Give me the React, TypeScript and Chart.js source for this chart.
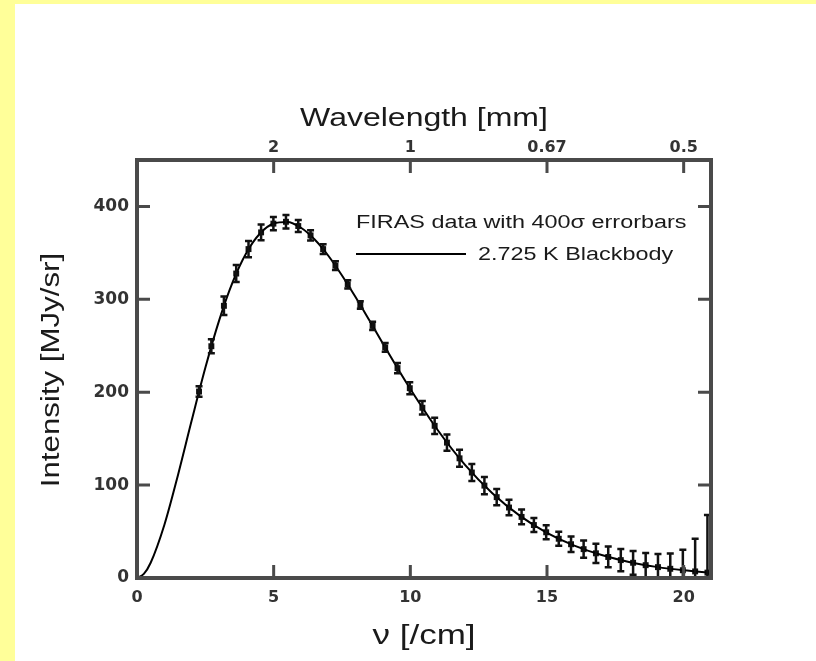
import { useEffect, useRef } from "react";
import { Chart, registerables } from "chart.js";

Chart.register(...registerables);

// FIRAS monopole spectrum: frequency [/cm], intensity [MJy/sr], 1σ uncertainty [kJy/sr]
const firasNu = [
  2.27, 2.72, 3.18, 3.63, 4.08, 4.54, 4.99, 5.45, 5.9, 6.35, 6.81, 7.26, 7.71, 8.17,
  8.62, 9.08, 9.53, 9.98, 10.44, 10.89, 11.34, 11.8, 12.25, 12.71, 13.16, 13.61, 14.07,
  14.52, 14.97, 15.43, 15.88, 16.34, 16.79, 17.24, 17.7, 18.15, 18.61, 19.06, 19.51,
  19.97, 20.42, 20.87,
];
const firasIntensity = [
  200.72, 249.51, 293.02, 327.77, 354.08, 372.08, 381.49, 383.48, 378.9, 368.83, 354.06,
  336.28, 316.08, 293.92, 271.43, 248.24, 225.94, 204.33, 183.26, 163.83, 145.75, 128.84,
  113.57, 99.45, 87.04, 75.88, 65.77, 57.01, 49.22, 42.27, 36.35, 31.06, 26.58, 22.64,
  19.26, 16.39, 13.81, 11.72, 9.92, 8.36, 7.09, 5.8,
];
const firasSigmaKJy = [
  14, 19, 25, 23, 22, 21, 18, 18, 16, 14, 13, 12, 11, 10, 11, 12, 14, 16, 18, 22, 22, 23,
  23, 23, 22, 21, 20, 19, 19, 19, 21, 23, 26, 28, 30, 32, 33, 35, 41, 55, 88, 155,
];
const sigmaMultiplier = 400;

// 2.725 K blackbody curve [/cm] -> [MJy/sr]
const bbNu = [
  0, 0.25, 0.5, 1, 1.5, 2, 2.5, 3, 3.5, 4, 4.5, 5, 5.5, 6, 6.5, 7, 7.5, 8, 8.5, 9, 9.5,
  10, 11, 12, 13, 14, 15, 16, 17, 18, 19, 20, 21,
];
const bbIntensity = [
  0, 4.4, 16.44, 57.11, 111.01, 169.52, 226.28, 276.86, 318.54, 349.98, 370.86, 381.6,
  383.25, 377.04, 364.4, 346.9, 325.7, 302.2, 277.4, 252.2, 227.4, 203.4, 159.3, 121.8,
  91.3, 67.2, 48.7, 34.9, 24.7, 17.27, 11.98, 8.24, 5.63,
];

const xTicks = [0, 5, 10, 15, 20];
const yTicks = [0, 100, 200, 300, 400];
const topTickNu = [5, 10, 15, 20];
const topTickLabels = ["2", "1", "0.67", "0.5"];

const xTitle = "ν [/cm]";
const topTitle = "Wavelength [mm]";
const yTitle = "Intensity [MJy/sr]";
const legendData = "FIRAS data with 400σ errorbars";
const legendLine = "2.725 K Blackbody";

const TEXT = "#1a1a1a";
const FRAME = "#4a4a4a";

function drawText(
  ctx: CanvasRenderingContext2D,
  text: string,
  x: number,
  y: number,
  font: string,
  sx: number,
  align: CanvasTextAlign,
  rot = 0
) {
  ctx.save();
  ctx.translate(x, y);
  if (rot) ctx.rotate(rot);
  ctx.scale(sx, 1);
  ctx.font = font;
  ctx.textAlign = align;
  ctx.textBaseline = "middle";
  ctx.fillStyle = TEXT;
  ctx.fillText(text, 0, 0);
  ctx.restore();
}

const errorBarPlugin = {
  id: "errorBars",
  afterDatasetsDraw(chart: any) {
    const { ctx, chartArea, scales } = chart;
    const xs = scales.x;
    const ys = scales.y;
    ctx.save();
    ctx.beginPath();
    ctx.rect(chartArea.left, chartArea.top, chartArea.right - chartArea.left, chartArea.bottom - chartArea.top);
    ctx.clip();
    ctx.strokeStyle = "#111";
    ctx.lineWidth = 2.5;
    for (let i = 0; i < firasNu.length; i++) {
      const err = (firasSigmaKJy[i] * sigmaMultiplier) / 1000;
      const px = xs.getPixelForValue(firasNu[i]);
      const top = ys.getPixelForValue(firasIntensity[i] + err);
      const bot = ys.getPixelForValue(firasIntensity[i] - err);
      ctx.beginPath();
      ctx.moveTo(px, top);
      ctx.lineTo(px, bot);
      ctx.moveTo(px - 3.5, top);
      ctx.lineTo(px + 3.5, top);
      ctx.moveTo(px - 3.5, bot);
      ctx.lineTo(px + 3.5, bot);
      ctx.stroke();
    }
    ctx.restore();
  },
};

const decorPlugin = {
  id: "decor",
  afterDraw(chart: any) {
    const { ctx, chartArea, scales } = chart;
    const { left, right, top, bottom } = chartArea;
    const tl = 13;
    ctx.save();
    ctx.strokeStyle = FRAME;
    ctx.lineWidth = 3;
    ctx.beginPath();
    for (const v of xTicks) {
      const px = scales.x.getPixelForValue(v);
      ctx.moveTo(px, bottom);
      ctx.lineTo(px, bottom - tl);
    }
    for (const v of topTickNu) {
      const px = scales.x2.getPixelForValue(v);
      ctx.moveTo(px, top);
      ctx.lineTo(px, top + tl);
    }
    for (const v of yTicks) {
      const py = scales.y.getPixelForValue(v);
      ctx.moveTo(left, py);
      ctx.lineTo(left + tl, py);
      ctx.moveTo(right, py);
      ctx.lineTo(right - tl, py);
    }
    ctx.stroke();
    ctx.lineWidth = 4;
    ctx.strokeStyle = FRAME;
    ctx.strokeRect(left, top, right - left, bottom - top);
    ctx.restore();

    const cx = (left + right) / 2;
    drawText(ctx, topTitle, cx, 119, "25px 'Liberation Sans', Arial, sans-serif", 1.28, "center");
    drawText(ctx, xTitle, cx, 636, "28px 'Liberation Sans', Arial, sans-serif", 1.25, "center");
    drawText(ctx, yTitle, 52, 370, "25px 'Liberation Sans', Arial, sans-serif", 1.25, "center", -Math.PI / 2);

    drawText(ctx, legendData, 356, 223, "18px 'Liberation Sans', Arial, sans-serif", 1.3, "left");
    drawText(ctx, legendLine, 478, 255, "18px 'Liberation Sans', Arial, sans-serif", 1.3, "left");
    ctx.save();
    ctx.strokeStyle = "#000";
    ctx.lineWidth = 2;
    ctx.beginPath();
    ctx.moveTo(356, 254);
    ctx.lineTo(466, 254);
    ctx.stroke();
    ctx.restore();
  },
};

export default function App() {
  const ref = useRef<HTMLCanvasElement | null>(null);

  useEffect(() => {
    if (!ref.current) return;
    const tickFontX = { family: "'DejaVu Sans', sans-serif", size: 16, weight: "bold" };
    const tickFontY = { family: "'DejaVu Sans', sans-serif", size: 17, weight: "bold" };
    const chart = new Chart(ref.current, {
      type: "scatter",
      data: {
        datasets: [
          {
            type: "line",
            label: legendLine,
            data: bbNu.map((x, i) => ({ x, y: bbIntensity[i] })),
            borderColor: "#000",
            borderWidth: 2,
            pointRadius: 0,
            cubicInterpolationMode: "monotone",
            fill: false,
          } as any,
          {
            type: "scatter",
            label: legendData,
            data: firasNu.map((x, i) => ({ x, y: firasIntensity[i] })),
            pointStyle: "rect",
            pointRadius: 4.2,
            backgroundColor: "#111",
            borderColor: "#111",
            borderWidth: 0,
          } as any,
        ],
      },
      options: {
        responsive: false,
        animation: false,
        devicePixelRatio: 1,
        layout: { padding: { left: 0, right: 105, top: 0, bottom: 0 } },
        plugins: { legend: { display: false }, tooltip: { enabled: false } },
        scales: {
          x: {
            type: "linear",
            position: "bottom",
            min: 0,
            max: 21,
            afterBuildTicks: (s: any) => {
              s.ticks = xTicks.map((value) => ({ value }));
            },
            afterFit: (s: any) => {
              s.height = 83;
            },
            grid: { display: false, drawTicks: false },
            border: { display: false },
            ticks: { font: tickFontX, color: "#333", padding: 10, maxRotation: 0 },
          },
          x2: {
            type: "linear",
            position: "top",
            min: 0,
            max: 21,
            afterBuildTicks: (s: any) => {
              s.ticks = topTickNu.map((value) => ({ value }));
            },
            afterFit: (s: any) => {
              s.height = 160;
            },
            grid: { display: false, drawTicks: false },
            border: { display: false },
            ticks: {
              font: tickFontX,
              color: "#333",
              padding: 3,
              maxRotation: 0,
              callback: (v: any) => topTickLabels[topTickNu.indexOf(Number(v))] ?? "",
            },
          },
          y: {
            type: "linear",
            min: 0,
            max: 450,
            afterBuildTicks: (s: any) => {
              s.ticks = yTicks.map((value) => ({ value }));
            },
            afterFit: (s: any) => {
              s.width = 137;
            },
            grid: { display: false, drawTicks: false },
            border: { display: false },
            ticks: { font: tickFontY, color: "#333", padding: 8 },
          },
        },
      } as any,
      plugins: [errorBarPlugin, decorPlugin],
    });
    return () => chart.destroy();
  }, []);

  return (
    <div
      style={{
        position: "fixed",
        left: 0,
        top: 0,
        width: 816,
        height: 661,
        background: "#FFFF99",
        overflow: "hidden",
      }}
    >
      <div
        style={{
          position: "absolute",
          left: 15,
          top: 4,
          width: 801,
          height: 657,
          background: "#FFFFFF",
        }}
      />
      <canvas
        ref={ref}
        width={816}
        height={661}
        style={{ position: "absolute", left: 0, top: 0, width: 816, height: 661 }}
      />
    </div>
  );
}
